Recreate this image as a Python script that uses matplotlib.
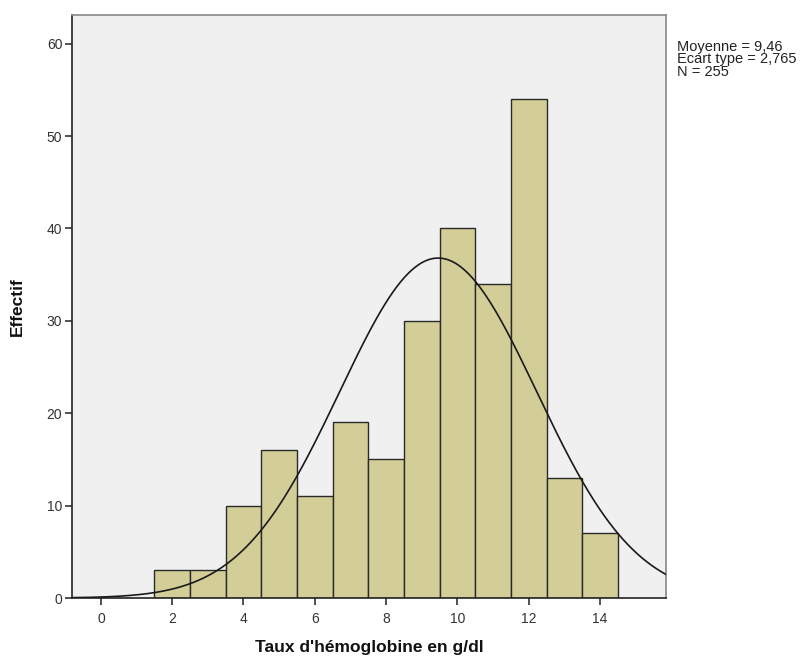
import numpy as np
import matplotlib
matplotlib.use("Agg")
import matplotlib.pyplot as plt

plt.rcParams['font.family'] = ['Liberation Sans', 'DejaVu Sans']

bin_edges = [1.5, 2.5, 3.5, 4.5, 5.5, 6.5, 7.5, 8.5, 9.5, 10.5, 11.5, 12.5, 13.5, 14.5]
counts = [3, 3, 10, 16, 11, 19, 15, 30, 40, 34, 54, 13, 7]
mean = 9.46
std = 2.765
n = 255
x_ticks = [0, 2, 4, 6, 8, 10, 12, 14]
y_ticks = [0, 10, 20, 30, 40, 50, 60]

fig = plt.figure(figsize=(8.06, 6.56), dpi=100)
ax = fig.add_axes([72/806, 1-598/656, (666-72)/806, (598-15)/656])
ax.set_facecolor("#f0f0f0")

edges = np.array(bin_edges)
widths = np.diff(edges)
ax.bar(edges[:-1], counts, width=widths, align="edge", color="#d3ce98",
       edgecolor="#2a2a2a", linewidth=1.0, zorder=2)

xmin, xmax = -0.81, 15.85
xs = np.linspace(xmin, xmax, 500)
bw = widths[0]
ys = n * bw / (std * np.sqrt(2*np.pi)) * np.exp(-0.5*((xs-mean)/std)**2)
ax.plot(xs, ys, color="#1a1a1a", linewidth=1.2, zorder=3)

ax.set_xlim(xmin, xmax)
ax.set_ylim(0, 63.1)
ax.set_xticks(x_ticks)
ax.set_yticks(y_ticks)
ax.tick_params(direction="out", length=5, width=1.2, color="#333333",
               labelsize=10, labelcolor="#333333", pad=2)
ax.tick_params(axis="x", pad=5)
for s in ["left", "bottom"]:
    ax.spines[s].set_color("#222222")
    ax.spines[s].set_linewidth(1.2)
for s in ["top", "right"]:
    ax.spines[s].set_color("#888888")
    ax.spines[s].set_linewidth(1.2)

ax.set_xlabel("Taux d'hémoglobine en g/dl", fontsize=12.5, fontweight="bold",
              color="#111111", labelpad=10)
ax.set_ylabel("Effectif", fontsize=12.5, fontweight="bold", color="#111111",
              labelpad=16)

fig.text(677/806, 1-40/656, "Moyenne = 9,46\nEcart type = 2,765\nN = 255",
         fontsize=10.5, color="#222222", va="top", ha="left", linespacing=0.85)

fig.savefig("out.png", dpi=100)
